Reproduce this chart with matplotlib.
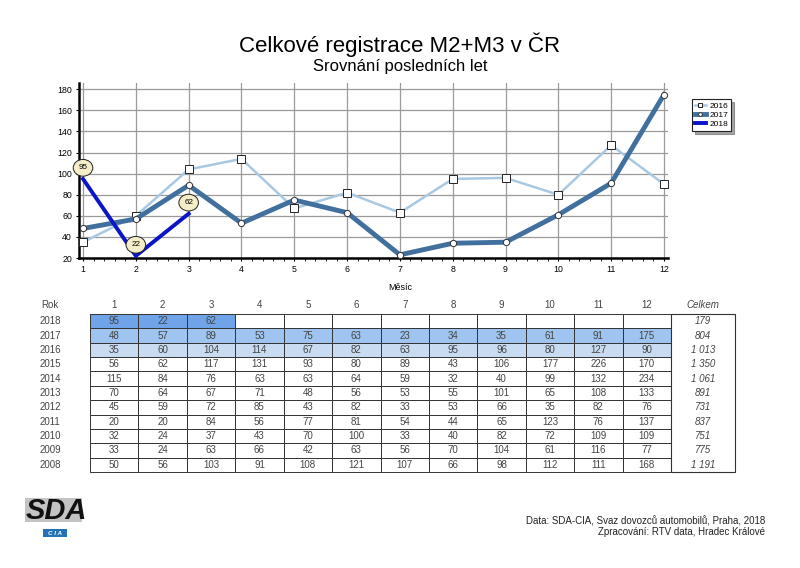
import matplotlib.pyplot as plt
from matplotlib.patches import Rectangle

plt.rcParams['font.family'] = ['Liberation Sans', 'DejaVu Sans']

months = list(range(1, 13))
years = ['2018', '2017', '2016', '2015', '2014', '2013', '2012', '2011', '2010', '2009', '2008']
values = [
    [95, 22, 62, None, None, None, None, None, None, None, None, None],
    [48, 57, 89, 53, 75, 63, 23, 34, 35, 61, 91, 175],
    [35, 60, 104, 114, 67, 82, 63, 95, 96, 80, 127, 90],
    [56, 62, 117, 131, 93, 80, 89, 43, 106, 177, 226, 170],
    [115, 84, 76, 63, 63, 64, 59, 32, 40, 99, 132, 234],
    [70, 64, 67, 71, 48, 56, 53, 55, 101, 65, 108, 133],
    [45, 59, 72, 85, 43, 82, 33, 53, 66, 35, 82, 76],
    [20, 20, 84, 56, 77, 81, 54, 44, 65, 123, 76, 137],
    [32, 24, 37, 43, 70, 100, 33, 40, 82, 72, 109, 109],
    [33, 24, 63, 66, 42, 63, 56, 70, 104, 61, 116, 77],
    [50, 56, 103, 91, 108, 121, 107, 66, 98, 112, 111, 168],
]
totals = ['179', '804', '1 013', '1 350', '1 061', '891', '731', '837', '751', '775', '1 191']

v2016 = values[2]
v2017 = values[1]
v2018 = [v for v in values[0] if v is not None]

c2016 = '#A9C8E2'
c2017 = '#41709F'
c2018 = '#0A14C8'
row_colors = {'2018': '#6FA5E8', '2017': '#9EC4EF', '2016': '#C9DBF0'}

fig = plt.figure(figsize=(8, 5.68), dpi=100)

# background layer in pixel coordinates for table, logo, footer
bg = fig.add_axes([0, 0, 1, 1])
bg.set_xlim(0, 800)
bg.set_ylim(568, 0)
bg.axis('off')

fig.text(0.5, 1 - 45 / 568, 'Celkové registrace M2+M3 v ČR', ha='center', va='center', fontsize=16)
fig.text(0.5, 1 - 66 / 568, 'Srovnání posledních let', ha='center', va='center', fontsize=12)

ax = fig.add_axes([79 / 800, 1 - 258 / 568, 589 / 800, 175 / 568])
ax.set_xlim(0.924, 12.076)
ax.set_ylim(20, 186)
ax.set_xticks(months)
ax.set_xticks([m + k * 0.2 for m in months[:-1] for k in range(1, 5)], minor=True)
ax.set_yticks(range(20, 181, 20))
ax.grid(True, color='#9a9a9a', lw=0.9)
ax.tick_params(labelsize=6.3, length=2, width=0.8, pad=3)
ax.tick_params(which='minor', length=2, width=0.6)
for s in ['top', 'right']:
    ax.spines[s].set_visible(False)
ax.spines['left'].set_linewidth(1.8)
ax.spines['bottom'].set_linewidth(1.8)

ax.plot(months, v2016, color=c2016, lw=1.8, marker='s', ms=5.2, mfc='white', mec='#222', mew=0.7,
        label='2016', zorder=3)
ax.plot(months, v2017, color=c2017, lw=3.5, marker='o', ms=4.5, mfc='white', mec='#333', mew=0.7,
        label='2017', zorder=4)
ax.plot(months[:len(v2018)], v2018, color=c2018, lw=2.8, label='2018', zorder=5)
for m, v in zip(months, v2018):
    ax.annotate(str(v), (m, v), xytext=(0, 8), textcoords='offset points', ha='center', va='center',
                fontsize=5.8, zorder=7, clip_on=False,
                bbox=dict(boxstyle='ellipse,pad=0.3', fc='#F3EDC8', ec='#222', lw=0.7))

leg = ax.legend(loc='upper left', bbox_to_anchor=(688 / 800, 1 - 95 / 568), bbox_transform=fig.transFigure,
                fontsize=6, handlelength=1.3, handletextpad=0.4, borderpad=0.35, labelspacing=0.15,
                markerscale=0.6, shadow=True, fancybox=False, edgecolor='#222', framealpha=1)
leg.get_frame().set_linewidth(0.8)

fig.text(400 / 800, 1 - 287 / 568, 'Měsíc', ha='center', va='center', fontsize=6.5)

# table
x0 = 90
cw = (671 - 90) / 12
tw = 735 - 671
y0 = 314
rh = (472 - 314) / 11
txt = '#444444'
hy = 305
bg.text(50, hy, 'Rok', ha='center', va='center', fontsize=7, color=txt)
for j, m in enumerate(months):
    bg.text(x0 + (j + 0.5) * cw, hy, str(m), ha='center', va='center', fontsize=7, color=txt)
bg.text(671 + tw / 2, hy, 'Celkem', ha='center', va='center', fontsize=7, color=txt, style='italic')
for i, yr in enumerate(years):
    yc = y0 + (i + 0.5) * rh
    bg.text(50, yc, yr, ha='center', va='center', fontsize=7, color=txt)
    for j, v in enumerate(values[i]):
        fc = row_colors.get(yr, 'white') if v is not None else 'white'
        bg.add_patch(Rectangle((x0 + j * cw, y0 + i * rh), cw, rh, fc=fc, ec='#333333', lw=0.7))
        if v is not None:
            bg.text(x0 + (j + 0.5) * cw, yc, str(v), ha='center', va='center', fontsize=7, color=txt)
    bg.text(671 + tw / 2, yc, totals[i], ha='center', va='center', fontsize=7, color=txt, style='italic')
bg.add_patch(Rectangle((671, y0), tw, 11 * rh, fc='none', ec='#333333', lw=0.8))

# logo
bg.add_patch(Rectangle((25, 498), 57, 24, fc='#C4C4C4', ec='none'))
bg.text(56, 511, 'SDA', ha='center', va='center', fontsize=21, weight='bold', style='italic', color='#111')
bg.add_patch(Rectangle((43, 529), 24, 8, fc='#2372B5', ec='none'))
bg.text(55, 533.2, 'C I A', ha='center', va='center', fontsize=4.5, weight='bold', style='italic', color='white')

# footer
bg.text(765, 521, 'Data: SDA-CIA, Svaz dovozců automobilů, Praha, 2018', ha='right', va='center',
        fontsize=7, color='#222')
bg.text(765, 532, 'Zpracování: RTV data, Hradec Králové', ha='right', va='center', fontsize=7, color='#222')

fig.savefig('out.png', dpi=100)
